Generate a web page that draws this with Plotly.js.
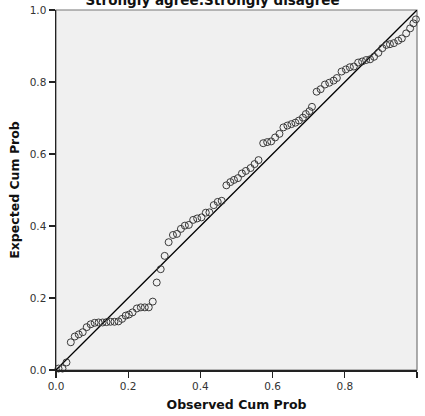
<!DOCTYPE html>
<html>
<head>
<meta charset="utf-8">
<script src="https://cdn.plot.ly/plotly-3.0.1.min.js"></script>
<style>html,body{margin:0;padding:0;background:#fff;}#chart{width:425px;height:416px;}</style>
</head>
<body>
<div id="chart"></div>
<script>
// Observed cumulative probabilities (x)
var observedCumProb = [
  0.007, 0.018, 0.029, 0.041, 0.052, 0.063, 0.074, 0.085, 0.096, 0.107,
  0.118, 0.129, 0.140, 0.151, 0.162, 0.173, 0.183, 0.193, 0.202, 0.212,
  0.224, 0.235, 0.246, 0.257, 0.268, 0.279, 0.290, 0.301, 0.312, 0.324,
  0.335, 0.346, 0.357, 0.368, 0.380, 0.391, 0.403, 0.415, 0.425, 0.437,
  0.448, 0.459, 0.472, 0.483, 0.493, 0.504, 0.515, 0.526, 0.539, 0.550,
  0.561, 0.574, 0.585, 0.596, 0.607, 0.619, 0.630, 0.641, 0.652, 0.663,
  0.673, 0.684, 0.692, 0.702, 0.709, 0.722, 0.733, 0.745, 0.757, 0.769,
  0.778, 0.791, 0.803, 0.814, 0.825, 0.837, 0.848, 0.859, 0.870, 0.881,
  0.893, 0.904, 0.915, 0.925, 0.936, 0.948, 0.958, 0.970, 0.981, 0.990,
  0.997
];
// Expected cumulative probabilities (y)
var expectedCumProb = [
  0.004, 0.004, 0.021, 0.077, 0.093, 0.099, 0.105, 0.119, 0.127, 0.131,
  0.132, 0.132, 0.133, 0.134, 0.134, 0.135, 0.142, 0.151, 0.154, 0.160,
  0.171, 0.174, 0.174, 0.174, 0.190, 0.243, 0.280, 0.317, 0.355, 0.375,
  0.378, 0.392, 0.401, 0.403, 0.417, 0.421, 0.424, 0.437, 0.438, 0.458,
  0.467, 0.470, 0.513, 0.522, 0.528, 0.533, 0.546, 0.553, 0.561, 0.572,
  0.583, 0.630, 0.633, 0.635, 0.646, 0.656, 0.674, 0.679, 0.683, 0.687,
  0.693, 0.701, 0.711, 0.719, 0.731, 0.773, 0.780, 0.793, 0.798, 0.804,
  0.811, 0.829, 0.835, 0.841, 0.843, 0.854, 0.857, 0.861, 0.863, 0.870,
  0.881, 0.894, 0.903, 0.905, 0.908, 0.915, 0.921, 0.935, 0.949, 0.963,
  0.974
];
// Reference line endpoints
var refLineX = [0, 1];
var refLineY = [0, 1];
var tickVals = [0, 0.2, 0.4, 0.6, 0.8, 1.0];
var tickText = ["0.0", "0.2", "0.4", "0.6", "0.8", "1.0"];

var FONT = "DejaVu Sans, Verdana, sans-serif";

var traces = [
  {
    x: refLineX, y: refLineY, type: "scatter", mode: "lines",
    line: {color: "#000000", width: 1.3}, hoverinfo: "skip", showlegend: false
  },
  {
    x: observedCumProb, y: expectedCumProb, type: "scatter", mode: "markers",
    cliponaxis: false,
    marker: {symbol: "circle-open", size: 7, color: "#3a3a3a", line: {width: 1, color: "#3a3a3a"}},
    showlegend: false
  }
];

var axisCommon = {
  range: [0, 1], tickvals: tickVals, ticktext: tickText,
  showgrid: false, zeroline: false, showline: true, linecolor: "#222", linewidth: 1.5,
  ticks: "outside", ticklen: 6, tickwidth: 1.2, tickcolor: "#222",
  tickfont: {family: FONT, size: 10.5, color: "#333"}, fixedrange: true
};

var layout = {
  width: 425, height: 416,
  margin: {l: 56, r: 8, t: 10, b: 46, pad: 0},
  paper_bgcolor: "#ffffff", plot_bgcolor: "#f0f0f0",
  title: {
    text: "<b>Strongly agree:Strongly disagree</b>",
    font: {family: FONT, size: 13.5, color: "#111"},
    x: 0.5, xref: "container", xanchor: "center",
    y: 1.0, yref: "container", yanchor: "middle"
  },
  xaxis: Object.assign({}, axisCommon, {
    title: {text: "<b>Observed Cum Prob</b>", font: {family: FONT, size: 12.5, color: "#111"}, standoff: 9}
  }),
  yaxis: Object.assign({}, axisCommon, {
    title: {text: "<b>Expected Cum Prob</b>", font: {family: FONT, size: 12.5, color: "#111"}, standoff: 7}
  }),
  shapes: [{
    type: "rect", xref: "paper", yref: "paper", x0: 0, y0: 0, x1: 1, y1: 1,
    line: {color: "#777", width: 1.2}, layer: "below"
  }]
};

Plotly.newPlot("chart", traces, layout, {staticPlot: true, displayModeBar: false});
</script>
</body>
</html>
